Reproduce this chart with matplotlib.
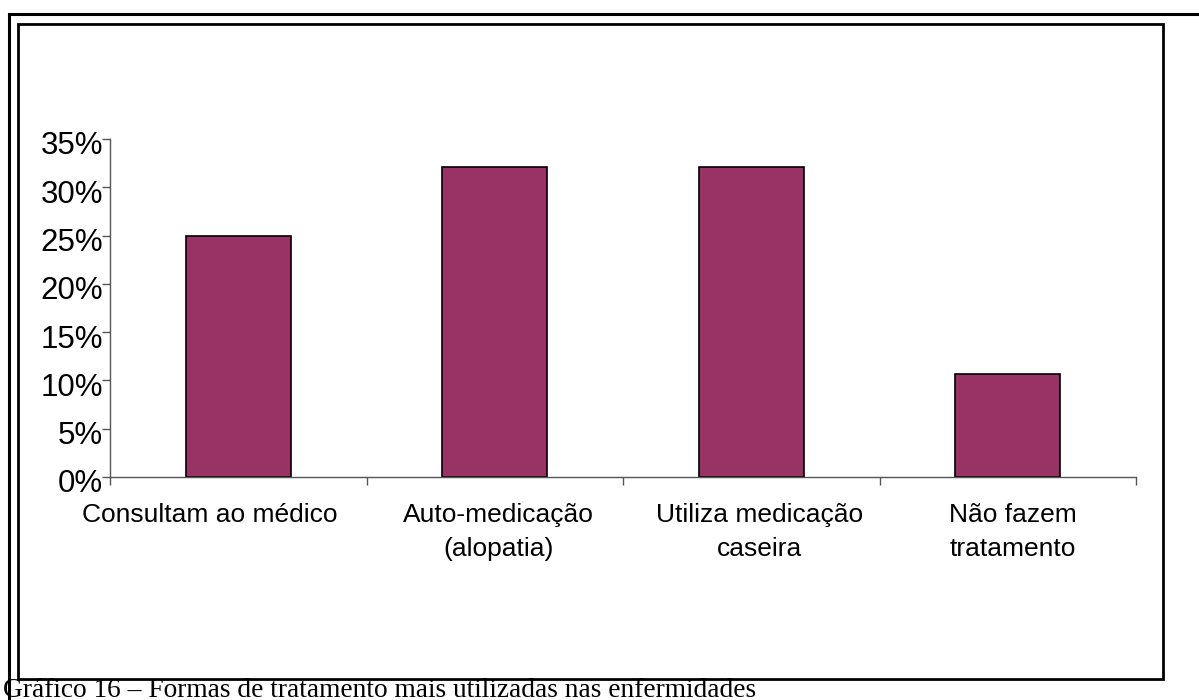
import matplotlib.pyplot as plt
from matplotlib.lines import Line2D
from matplotlib.patches import Rectangle
from matplotlib.ticker import FixedLocator, PercentFormatter
from matplotlib.transforms import ScaledTranslation

categorias = ["Consultam ao médico", "Auto-medicação\n(alopatia)",
              "Utiliza medicação\ncaseira", "Não fazem\ntratamento"]
valores = [0.25, 0.3214, 0.3214, 0.1071]
yticks = [0, 0.05, 0.10, 0.15, 0.20, 0.25, 0.30, 0.35]

W, H = 1199, 700
fig = plt.figure(figsize=(W / 100, H / 100), dpi=100, facecolor="white")

def px(x, y):
    return x / W, 1 - y / H

# molduras da página
fig.add_artist(Line2D([px(9, 0)[0], 1], [px(0, 14)[1]] * 2, color="black", lw=2.2))
fig.add_artist(Line2D([px(9, 0)[0]] * 2, [px(0, 14)[1], 0], color="black", lw=2.2))
x0, y1 = px(18, 24)
x1, y0 = px(1163, 679)
fig.add_artist(Rectangle((x0, y0), x1 - x0, y1 - y0, transform=fig.transFigure,
                         fill=False, edgecolor="black", lw=2))

# eixos
l, t = px(110, 139)
r, b = px(1136, 477)
ax = fig.add_axes([l, b, r - l, t - b])
ax.bar(range(len(valores)), valores, width=0.41, color="#993366",
       edgecolor="black", linewidth=1.2)
ax.set_xlim(-0.5, len(valores) - 0.5)
ax.set_ylim(0, 0.35)
for s in ["top", "right"]:
    ax.spines[s].set_visible(False)
for s in ["left", "bottom"]:
    ax.spines[s].set_color("#555555")
    ax.spines[s].set_linewidth(1)

ax.set_yticks(yticks)
ax.yaxis.set_major_formatter(PercentFormatter(1.0, decimals=0))
ax.tick_params(axis="y", direction="out", length=6, width=1, color="#555555",
               labelsize=22.5, pad=-1)

ax.set_xticks(range(len(valores)))
ax.set_xticklabels(categorias, fontsize=19, linespacing=1.5)
ax.tick_params(axis="x", which="major", length=0, pad=19)
ax.xaxis.set_minor_locator(FixedLocator([i - 0.5 for i in range(len(valores) + 1)]))
ax.tick_params(axis="x", which="minor", direction="out", length=6, width=1,
               color="#555555")

# pequenos deslocamentos dos rótulos como no original
desloc_x = [-28, 4, 8, 5]
for lab, dx in zip(ax.get_xticklabels(), desloc_x):
    lab.set_fontfamily("Liberation Sans")
    lab.set_transform(lab.get_transform() + ScaledTranslation(dx / 100, 0, fig.dpi_scale_trans))
for lab in ax.get_yticklabels():
    lab.set_fontfamily("Liberation Sans")
    lab.set_transform(lab.get_transform() + ScaledTranslation(0, -4 / 100, fig.dpi_scale_trans))

# legenda do gráfico (cortada na borda inferior, como no original)
fig.text(3 / W, 1 - 697 / H, "Gráfico 16 – Formas de tratamento mais utilizadas nas enfermidades",
         family="Liberation Serif", fontsize=19.7, va="baseline", ha="left")

fig.savefig("out.png", dpi=100)
